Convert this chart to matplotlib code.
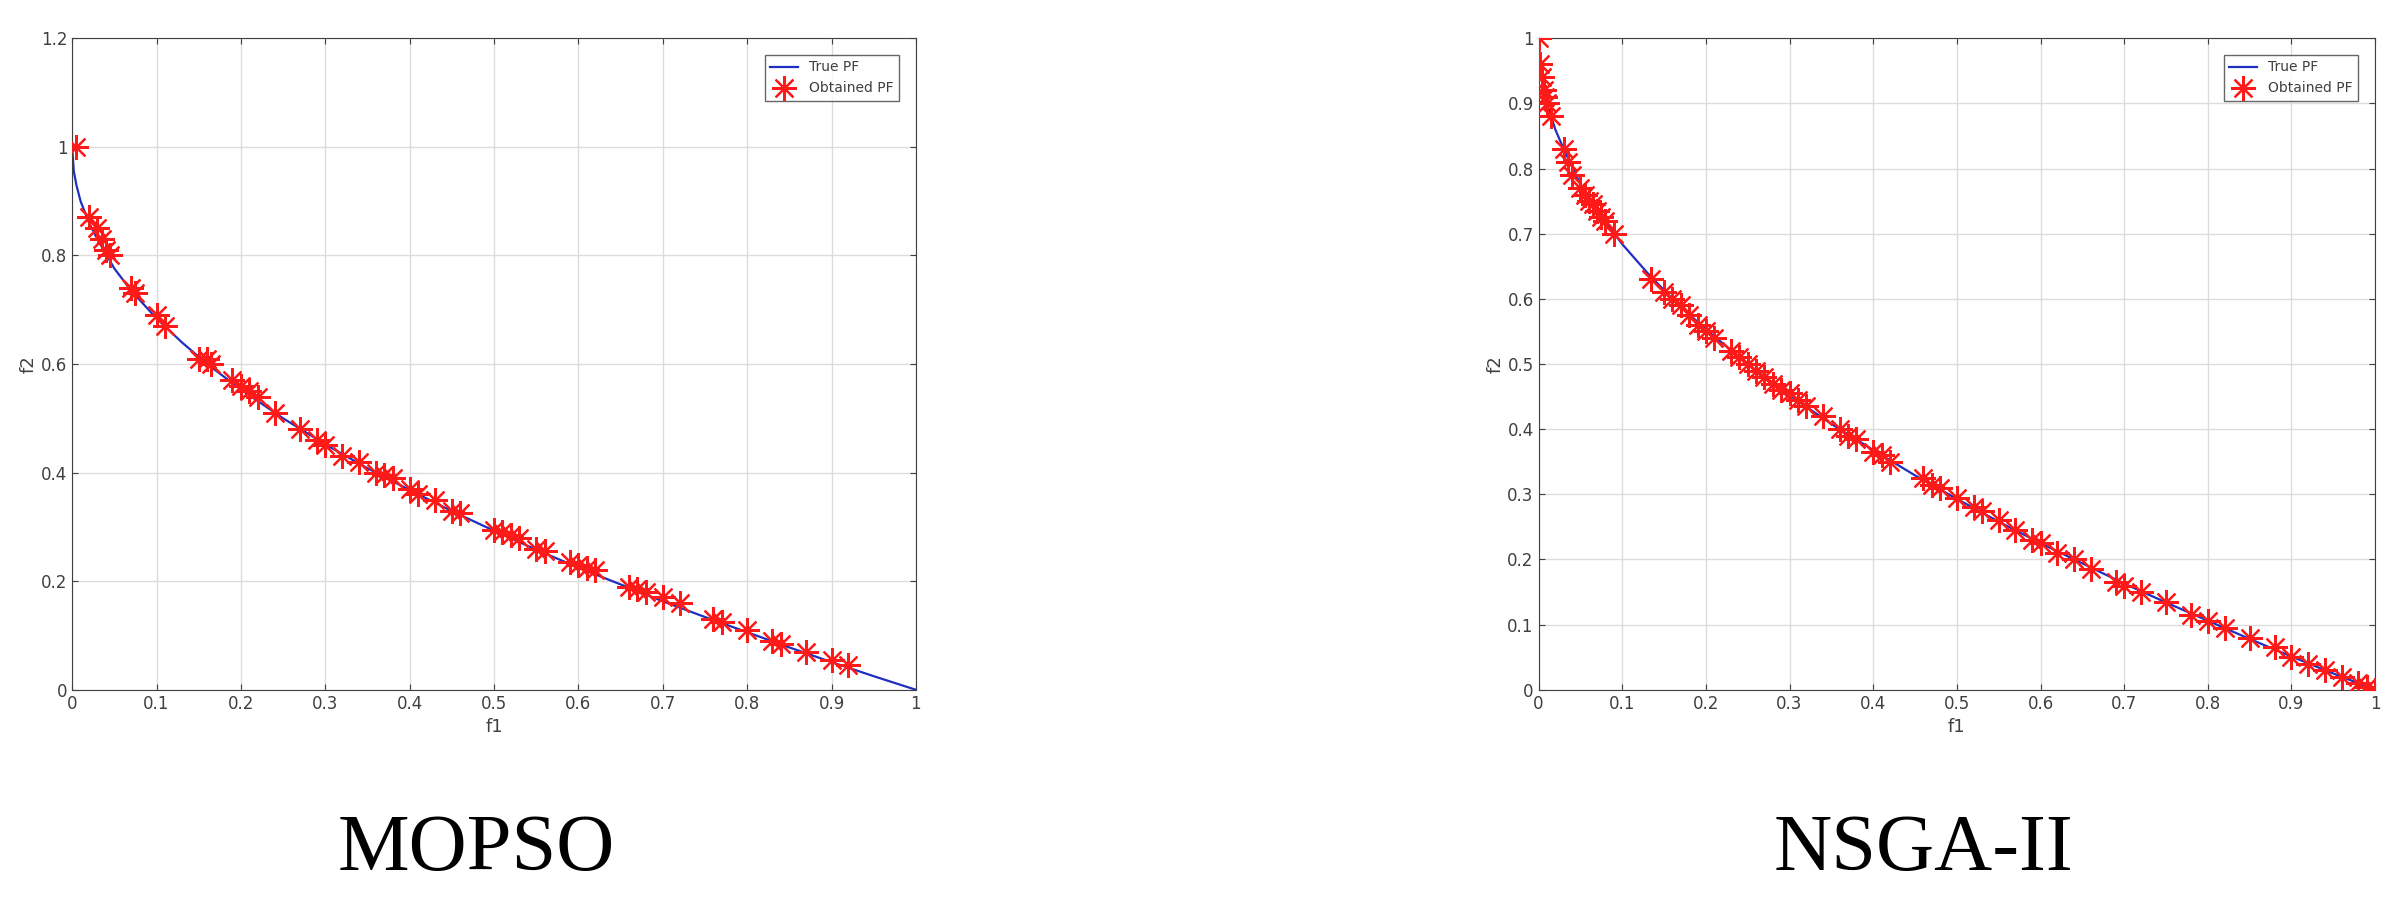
import numpy as np
import matplotlib.pyplot as plt

# True Pareto front
pf_f1 = [0.0, 0.002, 0.005, 0.01, 0.02, 0.03, 0.05, 0.07, 0.1, 0.13, 0.16, 0.2, 0.25,
         0.3, 0.35, 0.4, 0.45, 0.5, 0.55, 0.6, 0.65, 0.7, 0.75, 0.8, 0.85, 0.9, 0.95, 1.0]
pf_f2 = [1.0, 0.955, 0.93, 0.9, 0.86, 0.83, 0.776, 0.735, 0.684, 0.64, 0.6, 0.553, 0.5,
         0.452, 0.408, 0.368, 0.329, 0.293, 0.258, 0.225, 0.194, 0.163, 0.134, 0.106, 0.078, 0.051, 0.025, 0.0]

# MOPSO obtained front
mo_f1 = [0.005, 0.02, 0.03, 0.035, 0.04, 0.045, 0.07, 0.075, 0.1, 0.11, 0.15, 0.16, 0.165,
         0.19, 0.2, 0.21, 0.22, 0.24, 0.27, 0.29, 0.3, 0.32, 0.34, 0.36, 0.37, 0.38, 0.4,
         0.41, 0.43, 0.45, 0.46, 0.5, 0.51, 0.52, 0.53, 0.55, 0.56, 0.59, 0.6, 0.61, 0.62,
         0.66, 0.67, 0.68, 0.7, 0.72, 0.76, 0.77, 0.8, 0.83, 0.84, 0.87, 0.9, 0.92]
mo_f2 = [1.0, 0.87, 0.85, 0.83, 0.81, 0.8, 0.74, 0.73, 0.69, 0.67, 0.61, 0.61, 0.6,
         0.57, 0.56, 0.55, 0.54, 0.51, 0.48, 0.46, 0.45, 0.43, 0.42, 0.4, 0.395, 0.39, 0.37,
         0.36, 0.35, 0.33, 0.325, 0.295, 0.29, 0.285, 0.28, 0.26, 0.255, 0.235, 0.23, 0.225, 0.22,
         0.19, 0.185, 0.18, 0.17, 0.16, 0.13, 0.125, 0.11, 0.09, 0.085, 0.07, 0.055, 0.045]

# NSGA-II obtained front
ns_f1 = [0.0, 0.002, 0.004, 0.006, 0.008, 0.01, 0.015, 0.03, 0.035, 0.04, 0.05, 0.055, 0.06,
         0.065, 0.07, 0.075, 0.08, 0.09, 0.135, 0.15, 0.16, 0.17, 0.18, 0.19, 0.2, 0.21,
         0.23, 0.24, 0.25, 0.26, 0.27, 0.28, 0.29, 0.3, 0.31, 0.32, 0.34, 0.36, 0.37, 0.38,
         0.4, 0.41, 0.42, 0.46, 0.47, 0.48, 0.5, 0.52, 0.53, 0.55, 0.57, 0.59, 0.6, 0.62,
         0.64, 0.66, 0.69, 0.7, 0.72, 0.75, 0.78, 0.8, 0.82, 0.85, 0.88, 0.9, 0.92, 0.94,
         0.96, 0.98, 0.99, 1.0]
ns_f2 = [1.0, 0.96, 0.94, 0.92, 0.91, 0.9, 0.88, 0.83, 0.81, 0.79, 0.77, 0.76, 0.75,
         0.745, 0.735, 0.725, 0.72, 0.7, 0.63, 0.61, 0.6, 0.59, 0.575, 0.56, 0.55, 0.54,
         0.52, 0.51, 0.5, 0.49, 0.48, 0.47, 0.46, 0.455, 0.445, 0.435, 0.42, 0.4, 0.39, 0.385,
         0.365, 0.36, 0.35, 0.325, 0.315, 0.31, 0.295, 0.28, 0.275, 0.26, 0.245, 0.23, 0.225, 0.21,
         0.2, 0.185, 0.165, 0.16, 0.15, 0.135, 0.115, 0.105, 0.095, 0.08, 0.065, 0.05, 0.04, 0.03,
         0.02, 0.01, 0.005, 0.0]

fig = plt.figure(figsize=(24.04, 9.10), dpi=100)
ax1 = fig.add_axes([0.030, 0.242, 0.351, 0.716])
ax2 = fig.add_axes([0.640, 0.242, 0.348, 0.716])

panels = [
    (ax1, mo_f1, mo_f2, 'MOPSO', 1.2, np.arange(0, 1.21, 0.2), 0.198),
    (ax2, ns_f1, ns_f2, 'NSGA-II', 1.0, np.arange(0, 1.01, 0.1), 0.80),
]

for ax, xs, ys, name, ymax, yt, tx in panels:
    ax.plot(pf_f1, pf_f2, color='#1f2fbf', lw=1.6, label='True PF', zorder=2)
    ax.plot(xs, ys, ls='none', marker=(8, 2, 0), ms=18, mec='#ff1a1a', mew=1.6,
            label='Obtained PF', zorder=3)
    ax.set_xlim(0, 1)
    ax.set_ylim(0, ymax)
    ax.set_xticks(np.arange(0, 1.01, 0.1))
    ax.set_xticklabels(['0', '0.1', '0.2', '0.3', '0.4', '0.5', '0.6', '0.7', '0.8', '0.9', '1'])
    ax.set_yticks(yt)
    ax.set_yticklabels(['0' if v == 0 else ('%.1f' % v).rstrip('0').rstrip('.') for v in yt])
    ax.grid(True, color='#dcdcdc', lw=1)
    ax.tick_params(labelsize=12, colors='#404040', direction='in', length=4, top=True, right=True)
    for s in ax.spines.values():
        s.set_color('#404040')
    ax.set_xlabel('f1', fontsize=13, color='#404040')
    ax.set_ylabel('f2', fontsize=13, color='#404040', labelpad=2)
    leg = ax.legend(loc='upper right', fontsize=10, fancybox=False, edgecolor='#404040',
                    borderaxespad=1.2)
    for t in leg.get_texts():
        t.set_color('#404040')
    fig.text(tx, 0.025, name, family='Liberation Serif', fontsize=58, ha='center', va='bottom')

fig.savefig('out.png', dpi=100)
